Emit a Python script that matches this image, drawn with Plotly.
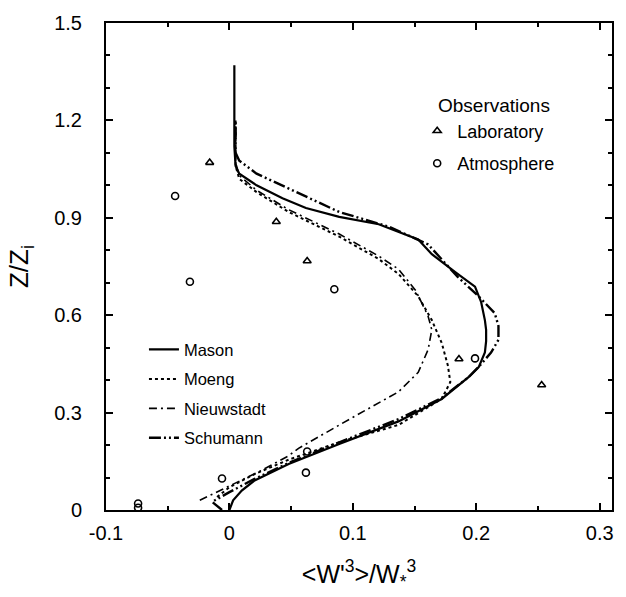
import plotly.graph_objects as go

# ---- data ----
lab_x = [-0.016, 0.038, 0.063, 0.186, 0.253]
lab_y = [1.07, 0.888, 0.767, 0.465, 0.385]

atm_x = [-0.044, -0.032, 0.085, 0.199, 0.063, 0.062, -0.006, -0.074, -0.074]
atm_y = [0.967, 0.703, 0.68, 0.467, 0.18, 0.115, 0.097, 0.02, 0.007]

mason_x = [0.0, 0.003, 0.01, 0.02, 0.048, 0.09, 0.137, 0.172, 0.194, 0.202, 0.207, 0.208, 0.208,
           0.207, 0.204, 0.199, 0.183, 0.164, 0.153, 0.121, 0.089, 0.062, 0.043, 0.022, 0.008,
           0.005, 0.004, 0.004]
mason_y = [0.0, 0.03, 0.06, 0.09, 0.142, 0.205, 0.273, 0.342, 0.41, 0.44, 0.485, 0.52, 0.555,
           0.585, 0.64, 0.688, 0.733, 0.788, 0.833, 0.88, 0.903, 0.93, 0.96, 1.0, 1.036,
           1.06, 1.12, 1.37]

moeng_x = [-0.01, 0.0, 0.02, 0.048, 0.09, 0.137, 0.172, 0.179, 0.177, 0.172, 0.164, 0.153,
           0.137, 0.121, 0.089, 0.048, 0.022, 0.008, 0.005, 0.005]
moeng_y = [0.04, 0.07, 0.11, 0.155, 0.21, 0.262, 0.342, 0.394, 0.445, 0.515, 0.585, 0.658,
           0.727, 0.773, 0.842, 0.918, 0.979, 1.02, 1.06, 1.2]

nieu_x = [-0.024, 0.0, 0.025, 0.048, 0.056, 0.097, 0.137, 0.153, 0.161, 0.164, 0.161, 0.151,
          0.137, 0.121, 0.089, 0.048, 0.022, 0.008, 0.005, 0.005]
nieu_y = [0.03, 0.075, 0.12, 0.167, 0.19, 0.279, 0.364, 0.424, 0.494, 0.555, 0.597, 0.676,
          0.742, 0.782, 0.85, 0.925, 0.985, 1.03, 1.07, 1.2]

schu_x = [-0.006, -0.014, 0.0, 0.02, 0.048, 0.09, 0.137, 0.172, 0.194, 0.203, 0.212, 0.218,
          0.218, 0.215, 0.202, 0.185, 0.161, 0.129, 0.089, 0.048, 0.022, 0.008, 0.005, 0.005]
schu_y = [0.0, 0.025, 0.055, 0.095, 0.145, 0.21, 0.28, 0.345, 0.41, 0.445, 0.485, 0.524,
          0.567, 0.606, 0.658, 0.718, 0.818, 0.873, 0.918, 0.99, 1.036, 1.076, 1.1, 1.2]

x_ticks = [-0.1, 0, 0.1, 0.2, 0.3]
x_ticklabels = ["-0.1", "0", "0.1", "0.2", "0.3"]
y_ticks = [0, 0.3, 0.6, 0.9, 1.2, 1.5]
y_ticklabels = ["0", "0.3", "0.6", "0.9", "1.2", "1.5"]

FONT = "Liberation Sans, Arial, sans-serif"

fig = go.Figure()

fig.add_trace(go.Scatter(x=mason_x, y=mason_y, mode="lines", name="Mason",
                         line=dict(color="black", width=2.2), legend="legend2",
                         legendgroup="m"))
fig.add_trace(go.Scatter(x=moeng_x, y=moeng_y, mode="lines", name="Moeng",
                         line=dict(color="black", width=2, dash="dot"), legend="legend2",
                         legendgroup="o"))
fig.add_trace(go.Scatter(x=nieu_x, y=nieu_y, mode="lines", name="Nieuwstadt",
                         line=dict(color="black", width=1.6, dash="8px,4px,2px,4px"),
                         legend="legend2", legendgroup="n"))
fig.add_trace(go.Scatter(x=schu_x, y=schu_y, mode="lines", name="Schumann",
                         line=dict(color="black", width=2.4, dash="12px,3px,2px,3px,2px,3px"),
                         legend="legend2", legendgroup="s"))

fig.add_trace(go.Scatter(x=lab_x, y=lab_y, mode="markers", name="Laboratory",
                         marker=dict(symbol="triangle-up-open", size=7, color="black",
                                     line=dict(width=1.6)),
                         legend="legend", legendgroup="l"))
fig.add_trace(go.Scatter(x=atm_x, y=atm_y, mode="markers", name="Atmosphere",
                         marker=dict(symbol="circle-open", size=7, color="black",
                                     line=dict(width=1.6)),
                         legend="legend", legendgroup="a"))

axis_common = dict(showline=True, linecolor="black", linewidth=2, mirror="ticks",
                   ticks="inside", ticklen=7, tickwidth=1.5, tickcolor="black",
                   showgrid=False, zeroline=False,
                   tickfont=dict(family=FONT, size=20, color="black"))

fig.update_xaxes(range=[-0.1, 0.31], tickvals=x_ticks, ticktext=x_ticklabels,
                 minor=dict(dtick=0.05, ticks="inside", ticklen=4, tickcolor="black",
                            showgrid=False),
                 title=dict(text="&lt;W'<sup>3</sup>&gt;/W<sub>*</sub><sup>3</sup>",
                            font=dict(family=FONT, size=25, color="black"), standoff=22),
                 ticklabelstandoff=4,
                 **axis_common)
fig.update_yaxes(range=[0, 1.5], tickvals=y_ticks, ticktext=y_ticklabels,
                 minor=dict(dtick=0.1, ticks="inside", ticklen=4, tickcolor="black",
                            showgrid=False),
                 title=dict(text="Z/Z<sub>i</sub>",
                            font=dict(family=FONT, size=26, color="black"), standoff=18),
                 ticklabelstandoff=18,
                 **axis_common)

fig.update_layout(
    width=626, height=597,
    margin=dict(l=106, r=12, t=17, b=87),
    plot_bgcolor="white", paper_bgcolor="white",
    font=dict(family=FONT, color="black"),
    legend=dict(x=0.615, y=0.816, xanchor="left", yanchor="top",
                bgcolor="rgba(0,0,0,0)", borderwidth=0,
                font=dict(family=FONT, size=18), tracegroupgap=6,
                traceorder="grouped", itemwidth=30),
    legend2=dict(x=0.075, y=0.365, xanchor="left", yanchor="top",
                 bgcolor="rgba(0,0,0,0)", borderwidth=0,
                 font=dict(family=FONT, size=16.5), tracegroupgap=5,
                 traceorder="grouped", itemwidth=30),
    annotations=[dict(text="Observations", xref="paper", yref="paper",
                      x=0.653, y=0.83, xanchor="left", yanchor="middle",
                      showarrow=False, font=dict(family=FONT, size=19, color="black"))],
)

fig.write_html("out.html")
